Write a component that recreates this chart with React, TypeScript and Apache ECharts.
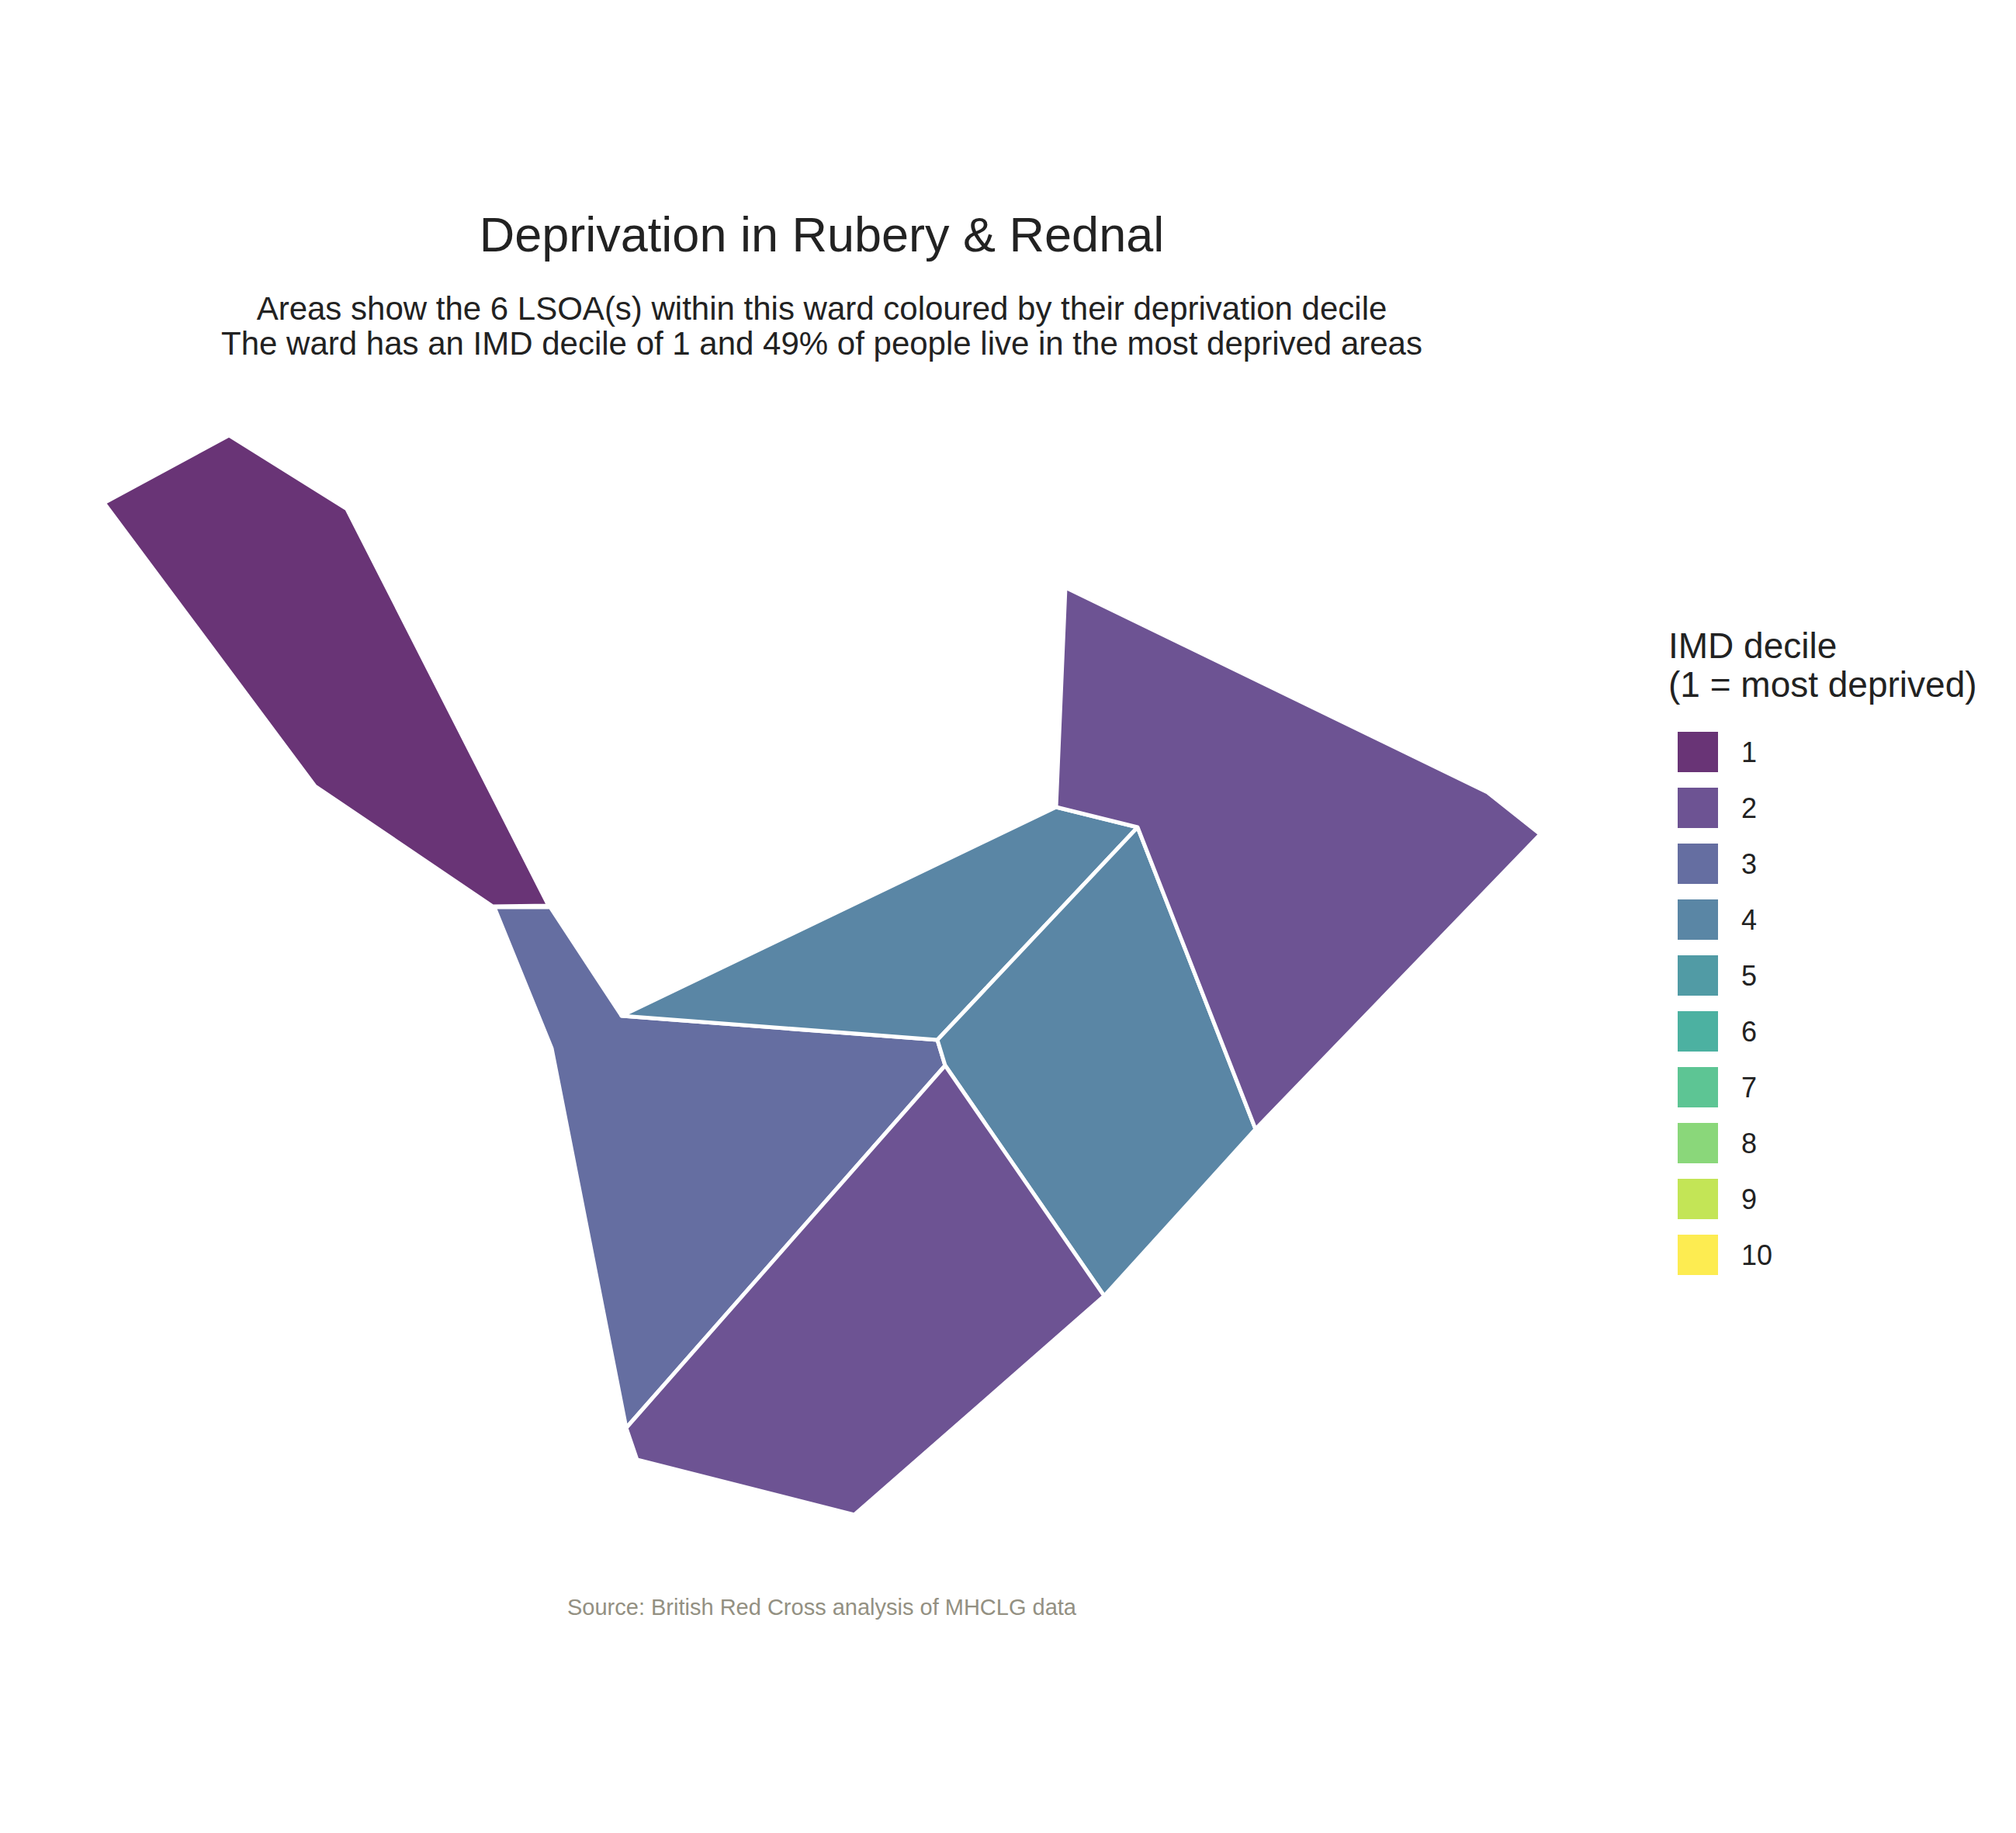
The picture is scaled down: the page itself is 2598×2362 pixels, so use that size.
import { useEffect, useRef } from 'react';
import * as echarts from 'echarts';

// LSOA outlines in Rubery & Rednal, [easting, northing] in metres
const lsoaDeciles = [1, 3, 4, 4, 2, 2];
const lsoaShapes: number[][][] = [
  [[397268, 277704], [397590, 277878], [397894, 277688], [398414, 276666], [398270, 276664], [397812, 276974]],
  [[398274, 276662], [398418, 276662], [398602, 276382], [399416, 276320], [399436, 276254], [398614, 275320], [398422, 276298]],
  [[398602, 276382], [399722, 276920], [399932, 276868], [399416, 276320]],
  [[399932, 276868], [400236, 276090], [399846, 275660], [399436, 276254], [399416, 276320]],
  [[399436, 276254], [399846, 275660], [399202, 275096], [398642, 275238], [398614, 275320]],
  [[399746, 277486], [400834, 276958], [400970, 276850], [400236, 276090], [399932, 276868], [399722, 276920]],
];

const deciles = [1, 2, 3, 4, 5, 6, 7, 8, 9, 10];
// viridis at 80% opacity over white
const decileColours = ['#693476', '#6D5393', '#656EA1', '#5A86A5', '#519BA5', '#4CB1A1', '#5DC594', '#8AD77A', '#C3E556', '#FDEC51'];

const titleText = 'Deprivation in Rubery & Rednal';
const subtitleLines = [
  'Areas show the 6 LSOA(s) within this ward coloured by their deprivation decile',
  'The ward has an IMD decile of 1 and 49% of people live in the most deprived areas',
];
const legendTitleLines = ['IMD decile', '(1 = most deprived)'];
const sourceText = 'Source: British Red Cross analysis of MHCLG data';

const font = '"Liberation Sans", Arial, sans-serif';

const App = () => {
  const chartRef = useRef<HTMLDivElement>(null);

  useEffect(() => {
    document.body.style.margin = '0';
    if (!chartRef.current) return;
    const chart = echarts.init(chartRef.current, undefined, { renderer: 'svg' });

    const centroid = (shape: number[][]) => [
      shape.reduce((s, p) => s + p[0], 0) / shape.length,
      shape.reduce((s, p) => s + p[1], 0) / shape.length,
    ];

    const option: any = {
      animation: false,
      backgroundColor: '#ffffff',
      textStyle: { fontFamily: font },
      grid: { left: 0, right: 0, top: 0, bottom: 0 },
      xAxis: { type: 'value', min: 397000, max: 402196, show: false },
      yAxis: { type: 'value', min: 274276, max: 279000, show: false },
      visualMap: {
        type: 'piecewise',
        seriesIndex: 0,
        dimension: 2,
        pieces: deciles.map((d, i) => ({ value: d, label: String(d), color: decileColours[i] })),
        orient: 'vertical',
        inverse: true,
        align: 'left',
        left: 2162,
        top: 943,
        padding: 0,
        itemWidth: 52,
        itemHeight: 52,
        itemGap: 20,
        itemSymbol: 'rect',
        textGap: 30,
        showLabel: true,
        hoverLink: false,
        selectedMode: false,
        textStyle: { fontSize: 36, color: '#222222', fontFamily: font },
      },
      graphic: [
        {
          type: 'text', x: 1059, y: 302,
          style: { text: titleText, fontSize: 63, fontFamily: font, fill: '#222222', align: 'center', verticalAlign: 'middle' },
        },
        ...subtitleLines.map((t, i) => ({
          type: 'text', x: 1059, y: 397 + i * 45,
          style: { text: t, fontSize: 42, fontFamily: font, fill: '#222222', align: 'center', verticalAlign: 'middle' },
        })),
        ...legendTitleLines.map((t, i) => ({
          type: 'text', x: 2150, y: 832 + i * 50,
          style: { text: t, fontSize: 46, fontFamily: font, fill: '#222222', align: 'left', verticalAlign: 'middle' },
        })),
        {
          type: 'text', x: 1059, y: 2071,
          style: { text: sourceText, fontSize: 29, fontFamily: font, fill: '#939082', align: 'center', verticalAlign: 'middle' },
        },
      ],
      series: [
        {
          type: 'custom',
          coordinateSystem: 'cartesian2d',
          silent: true,
          encode: { x: 0, y: 1 },
          data: lsoaShapes.map((shape, i) => [...centroid(shape), lsoaDeciles[i]]),
          renderItem: (params: any, api: any) => {
            const shape = lsoaShapes[params.dataIndex];
            return {
              type: 'polygon',
              shape: { points: shape.map((p) => api.coord(p)) },
              style: { fill: api.visual('color'), stroke: '#ffffff', lineWidth: 5, lineJoin: 'round' },
            };
          },
        },
      ],
    };

    chart.setOption(option);

    return () => {
      chart.dispose();
    };
  }, []);

  return <div ref={chartRef} style={{ width: '2598px', height: '2362px' }} />;
};

export default App;
